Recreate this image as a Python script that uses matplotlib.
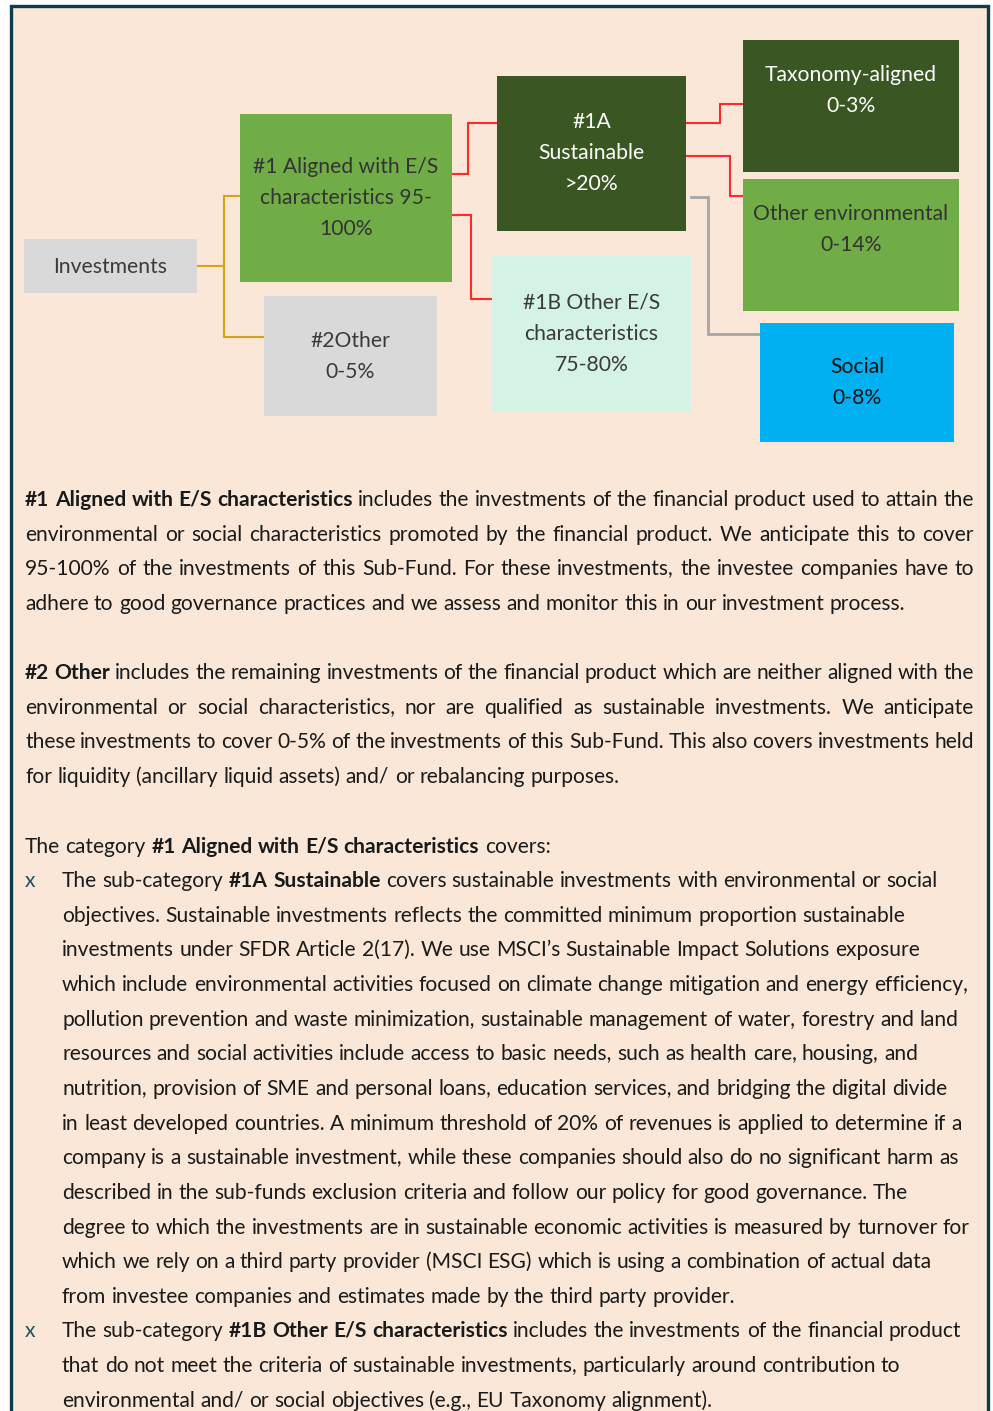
import matplotlib
matplotlib.use('Agg')
import matplotlib.pyplot as plt
from matplotlib.patches import Rectangle
from matplotlib.font_manager import FontProperties
import math
import re

# ---------------- data ----------------
box_labels = [
    "Investments",
    "#1 Aligned with E/S\ncharacteristics 95-\n100%",
    "#2Other\n0-5%",
    "#1A\nSustainable\n>20%",
    "#1B Other E/S\ncharacteristics\n75-80%",
    "Taxonomy-aligned\n0-3%",
    "Other environmental\n0-14%",
    "Social\n0-8%",
]

para1 = [
    "**#1 Aligned with E/S characteristics** includes the investments of the financial product used to attain the",
    "environmental or social characteristics promoted by the financial product. We anticipate this to cover",
    "95-100% of the investments of this Sub-Fund. For these investments, the investee companies have to",
    "adhere to good governance practices and we assess and monitor this in our investment process.",
]
para2 = [
    "**#2 Other** includes the remaining investments of the financial product which are neither aligned with the",
    "environmental or social characteristics, nor are qualified as sustainable investments. We anticipate",
    "these investments to cover 0-5% of the investments of this Sub-Fund. This also covers investments held",
    "for liquidity (ancillary liquid assets) and/ or rebalancing purposes.",
]
para3 = ["The category **#1 Aligned with E/S characteristics** covers:"]
bullet1 = [
    "The sub-category **#1A Sustainable** covers sustainable investments with environmental or social",
    "objectives. Sustainable investments reflects the committed minimum proportion sustainable",
    "investments under SFDR Article 2(17). We use MSCI\u2019s Sustainable Impact Solutions exposure",
    "which include environmental activities focused on climate change mitigation and energy efficiency,",
    "pollution prevention and waste minimization, sustainable management of water, forestry and land",
    "resources and social activities include access to basic needs, such as health care, housing, and",
    "nutrition, provision of SME and personal loans, education services, and bridging the digital divide",
    "in least developed countries. A minimum threshold of 20% of revenues is applied to determine if a",
    "company is a sustainable investment, while these companies should also do no significant harm as",
    "described in the sub-funds exclusion criteria and follow our policy for good governance. The",
    "degree to which the investments are in sustainable economic activities is measured by turnover for",
    "which we rely on a third party provider (MSCI ESG) which is using a combination of actual data",
    "from investee companies and estimates made by the third party provider.",
]
bullet2 = [
    "The sub-category **#1B Other E/S characteristics** includes the investments of the financial product",
    "that do not meet the criteria of sustainable investments, particularly around contribution to",
    "environmental and/ or social objectives (e.g., EU Taxonomy alignment).",
]
bullet_marker = "x"

# ---------------- layout / style ----------------
W, H = 993, 1411
FONT = ['Lato', 'DejaVu Sans']
plt.rcParams['font.family'] = FONT

fig = plt.figure(figsize=(W / 100, H / 100), dpi=100)
fig.patch.set_facecolor('white')
ax = fig.add_axes([0, 0, 1, 1])
ax.set_xlim(0, W)
ax.set_ylim(H, 0)
ax.axis('off')
renderer = fig.canvas.get_renderer()

try:
    from matplotlib.backends.backend_agg import get_hinting_flag
except Exception:  # pragma: no cover
    get_hinting_flag = None


def baseline_shift(s, fs, weight):
    """Offset so the rasterised glyph baseline lands exactly on an integer row."""
    try:
        prop = FontProperties(family=FONT, size=fs, weight=weight)
        font = renderer._prepare_font(prop)
        font.set_text(s, 0, flags=get_hinting_flag())
        wh = font.get_width_height()
        d64 = font.get_descent()
        ymax = wh[1] - d64
        d = d64 / 64.0
        f = d - math.floor(d)
        g = ymax / 64.0 - math.floor(ymax / 64.0)
        if f == 0:
            return 0.0
        return (1.0 if g + f >= 1 else 0.0) - f
    except Exception:
        return 0.0


def put(x, y, s, fs, weight='normal', **kw):
    yb = round(y)
    return ax.text(x, yb + baseline_shift(s, fs, weight), s, fontsize=fs,
                   fontweight=weight, va='baseline', **kw)


BG = '#fae7d7'
ax.add_patch(Rectangle((10.5, 5.5), 977, 1430, facecolor=BG, edgecolor='#0d3b4a', lw=2.4, zorder=0))

# boxes: (x0, y0, x1, y1, face, textcolor, first baseline)
box_geom = [
    (24, 239, 197, 293, '#d9d9d9', '#3a3a3a', 273),
    (240, 114, 452, 282, '#70ad47', '#333333', 173),
    (264, 296, 437, 416, '#d9d9d9', '#3a3a3a', 347),
    (497, 76, 686, 231, '#3a5623', '#ffffff', 128),
    (492, 256, 691, 411, '#d5f2e6', '#3a3a3a', 309),
    (743, 40, 959, 172, '#3a5623', '#ffffff', 81),
    (743, 179, 959, 311, '#70ad47', '#333333', 220),
    (760, 323, 954, 442, '#00b0f0', '#111111', 373),
]
BOX_FS = 15.2
BOX_LS = 31
for (x0, y0, x1, y1, fc, tc, bl), lab in zip(box_geom, box_labels):
    ax.add_patch(Rectangle((x0, y0), x1 - x0, y1 - y0, facecolor=fc, edgecolor='none', zorder=2))
    for i, ln in enumerate(lab.split('\n')):
        put((x0 + x1) / 2, bl + i * BOX_LS, ln, BOX_FS, ha='center', color=tc, zorder=3)

# connectors
def conn(xs, ys, color, lw=1.5):
    ax.plot(xs, ys, color=color, lw=lw, solid_joinstyle='miter', zorder=1)

ORANGE = '#d9a21b'
RED = '#ff2a2a'
GRAY = '#a6a6a6'
conn([197, 224], [266, 266], ORANGE)
conn([240, 224, 224, 264], [196, 196, 337, 337], ORANGE)
conn([452, 468, 468, 497], [174, 174, 123, 123], RED)
conn([452, 471, 471, 492], [215, 215, 299, 299], RED)
conn([686, 720, 720, 743], [123, 123, 104, 104], RED)
conn([686, 730, 730, 743], [156, 156, 196, 196], RED)
conn([691, 708, 708, 760], [197, 197, 334, 334], GRAY, lw=2)

# ---------------- body text ----------------
TXT = '#1a1a1a'
FS = 15.1


def tokens(line):
    out = []
    for part in re.split(r'(\*\*.*?\*\*)', line):
        if not part:
            continue
        bold = part.startswith('**')
        s = part.strip('*') if bold else part
        for w in s.split(' '):
            if w:
                out.append((w, bold))
    return out


def width_of(s, bold):
    t = ax.text(0, 0, s, fontsize=FS, fontweight='bold' if bold else 'normal')
    w = t.get_window_extent(renderer).width
    t.remove()
    return w

SPACE = width_of('a a', False) - width_of('aa', False)


def draw_line(x0, y, line, x1=None):
    toks = tokens(line)
    ws = [width_of(w, b) for w, b in toks]
    if x1 is not None and len(toks) > 1:
        gap = (x1 - x0 - sum(ws)) / (len(toks) - 1)
    else:
        gap = SPACE
    x = x0
    for (w, b), wd in zip(toks, ws):
        put(x, y, w, FS, 'bold' if b else 'normal', color=TXT, ha='left')
        x += wd + gap

LS = 34.65
XL, XR = 25, 974
for i, ln in enumerate(para1):
    draw_line(XL, 506 + i * LS, ln, XR if i < len(para1) - 1 else None)
for i, ln in enumerate(para2):
    draw_line(XL, 679 + i * LS, ln, XR if i < len(para2) - 1 else None)
draw_line(XL, 853, para3[0])

XB = 62
y = 887
for blk in (bullet1, bullet2):
    put(25, y, bullet_marker, FS, color='#1f4e5f', ha='left')
    for ln in blk:
        draw_line(XB, y, ln)
        y += LS

fig.savefig('out.png', dpi=100, facecolor='white')
